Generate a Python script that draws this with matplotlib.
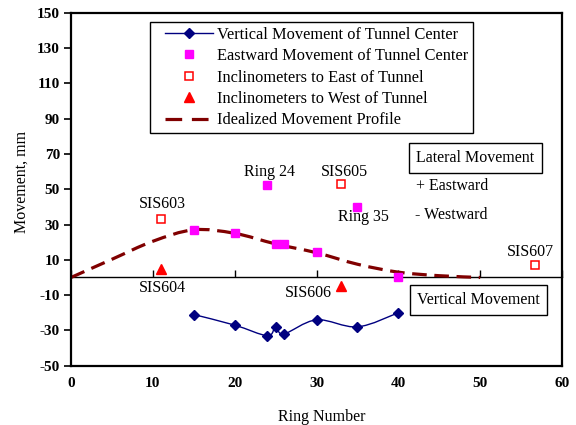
import numpy as np
import matplotlib
matplotlib.use('Agg')
import matplotlib.pyplot as plt
from matplotlib.path import Path
from matplotlib.patches import PathPatch
from matplotlib.lines import Line2D
from matplotlib.legend_handler import HandlerLine2D

plt.rcParams['font.family'] = ['Liberation Serif', 'DejaVu Serif']
plt.rcParams['lines.scale_dashes'] = False
plt.rcParams['axes.unicode_minus'] = False

# ---------------- data ----------------
vert_ring = [15, 20, 24, 25, 26, 30, 35, 40]
vert_mm = [-21, -27, -33, -28, -32, -24, -28, -20]

east_ring = [15, 20, 24, 25, 26, 30, 35, 40]
east_mm = [27, 25, 52.5, 19, 19, 14.3, 40, 0]

incl_east_ring = [11, 33, 56.7]
incl_east_mm = [33, 53, 7]

incl_west_ring = [11, 33]
incl_west_mm = [5, -5]

profile_ring = [0, 5, 10, 15, 20, 25, 30, 35, 40, 45, 50]
profile_mm = [0, 10.3, 20.5, 27, 25, 19, 14, 7.5, 3, 1, 0]

x_ticks = [0, 10, 20, 30, 40, 50, 60]
y_ticks = [-50, -30, -10, 10, 30, 50, 70, 90, 110, 130, 150]

labels = ["SIS603", "SIS604", "Ring 24", "SIS605", "Ring 35", "SIS606", "SIS607"]
label_x = [11.2, 11.2, 24.2, 33.4, 35.7, 29.0, 56.1]
label_y = [41.6, -6.2, 60.0, 60.0, 34.4, -9.0, 14.6]


def smooth_path(xs, ys):
    pts = np.column_stack([xs, ys]).astype(float)
    n = len(pts)
    verts = [pts[0]]
    codes = [Path.MOVETO]
    for i in range(n - 1):
        p0 = pts[i - 1] if i > 0 else pts[i]
        p1 = pts[i]
        p2 = pts[i + 1]
        p3 = pts[i + 2] if i + 2 < n else pts[i + 1]
        c1 = p1 + (p2 - p0) / 6.0
        c2 = p2 - (p3 - p1) / 6.0
        verts += [c1, c2, p2]
        codes += [Path.CURVE4] * 3
    return Path(verts, codes)


fig = plt.figure(figsize=(5.76, 4.25), dpi=100)
ax = fig.add_axes([0.1233, 0.1395, 0.8524, 0.8306])
ax.set_xlim(0, 60)
ax.set_ylim(-50, 150)

NAVY = '#000080'
MAROON = '#800000'
MAGENTA = '#FF00FF'
RED = '#FF0000'
DASH = (0, (10.5, 5.5))
LEG_DASH = (0, (12, 7))

# idealized profile
prof = PathPatch(smooth_path(profile_ring, profile_mm), fill=False,
                 edgecolor=MAROON, linewidth=2.3, linestyle=DASH,
                 capstyle='butt', zorder=2)
ax.add_patch(prof)

# vertical movement (smoothed line)
vline = PathPatch(smooth_path(vert_ring, vert_mm), fill=False,
                  edgecolor=NAVY, linewidth=1.0, zorder=3)
ax.add_patch(vline)
ax.plot(vert_ring, vert_mm, linestyle='none', marker='D', ms=5,
        color=NAVY, zorder=4)

ax.plot(east_ring, east_mm, linestyle='none', marker='s', ms=6,
        color=MAGENTA, zorder=5)
ax.plot(incl_east_ring, incl_east_mm, linestyle='none', marker='s', ms=5.5,
        mfc='white', mec=RED, mew=1.1, zorder=5)
ax.plot(incl_west_ring, incl_west_mm, linestyle='none', marker='^', ms=6.5,
        color=RED, zorder=5)

# point labels
for t, x, y in zip(labels, label_x, label_y):
    ax.text(x, y, t, ha='center', va='center', fontsize=11.5, zorder=6)

# info boxes
box = dict(boxstyle='square,pad=0.45', fc='white', ec='black', lw=1.0)
ax.text(49.4, 67.8, "Lateral Movement", ha='center', va='center',
        fontsize=11.5, bbox=box, zorder=6)
ax.text(42.2, 52.0, "+ Eastward", ha='left', va='center', fontsize=11.5, zorder=6)
ax.text(42.0, 35.4, "- Westward", ha='left', va='center', fontsize=11.5, zorder=6)
ax.text(49.75, -12.6, "Vertical Movement", ha='center', va='center',
        fontsize=11.5, bbox=box, zorder=6)

# axes styling
for s in ax.spines.values():
    s.set_linewidth(1.6)
ax.set_xticks(x_ticks)
ax.set_yticks(y_ticks)
ax.tick_params(axis='x', length=0, pad=8, labelsize=11)
ax.tick_params(axis='y', direction='out', length=5, width=1.2, pad=3, labelsize=11)
for lab in ax.get_xticklabels() + ax.get_yticklabels():
    lab.set_fontweight('bold')

# zero-line axis with ticks
sec = ax.secondary_xaxis(0, transform=ax.transData)
sec.set_xticks(x_ticks)
sec.tick_params(axis='x', direction='in', length=5, width=1.0, labelbottom=False)
sec.spines['bottom'].set_linewidth(1.0)

ax.set_xlabel("Ring Number", fontsize=11.5)
ax.set_ylabel("Movement, mm", fontsize=11.5)
ax.xaxis.set_label_coords(0.51, -0.123)
ax.yaxis.set_label_coords(-0.085, 0.52)

# legend
handles = [
    Line2D([], [], color=NAVY, lw=1.0, marker='D', ms=5),
    Line2D([], [], color=MAGENTA, linestyle='none', marker='s', ms=6),
    Line2D([], [], linestyle='none', marker='s', ms=5.5, mfc='white', mec=RED, mew=1.1),
    Line2D([], [], color=RED, linestyle='none', marker='^', ms=6.5),
    Line2D([], [], color=MAROON, lw=2.3, linestyle=LEG_DASH),
]
leg_labels = ["Vertical Movement of Tunnel Center",
              "Eastward Movement of Tunnel Center",
              "Inclinometers to East of Tunnel",
              "Inclinometers to West of Tunnel",
              "Idealized Movement Profile"]
leg = ax.legend(handles, leg_labels, loc='upper left',
                bbox_to_anchor=(0.161, 0.974), borderaxespad=0,
                fontsize=11.75, frameon=True, fancybox=False, edgecolor='black',
                framealpha=1, handlelength=3.56, handletextpad=0.25,
                labelspacing=0.33, borderpad=0.3,
                handler_map={Line2D: HandlerLine2D(xpad=0.62)})
leg.get_frame().set_linewidth(1.0)
leg.set_zorder(7)

fig.savefig('out.png', dpi=100)
